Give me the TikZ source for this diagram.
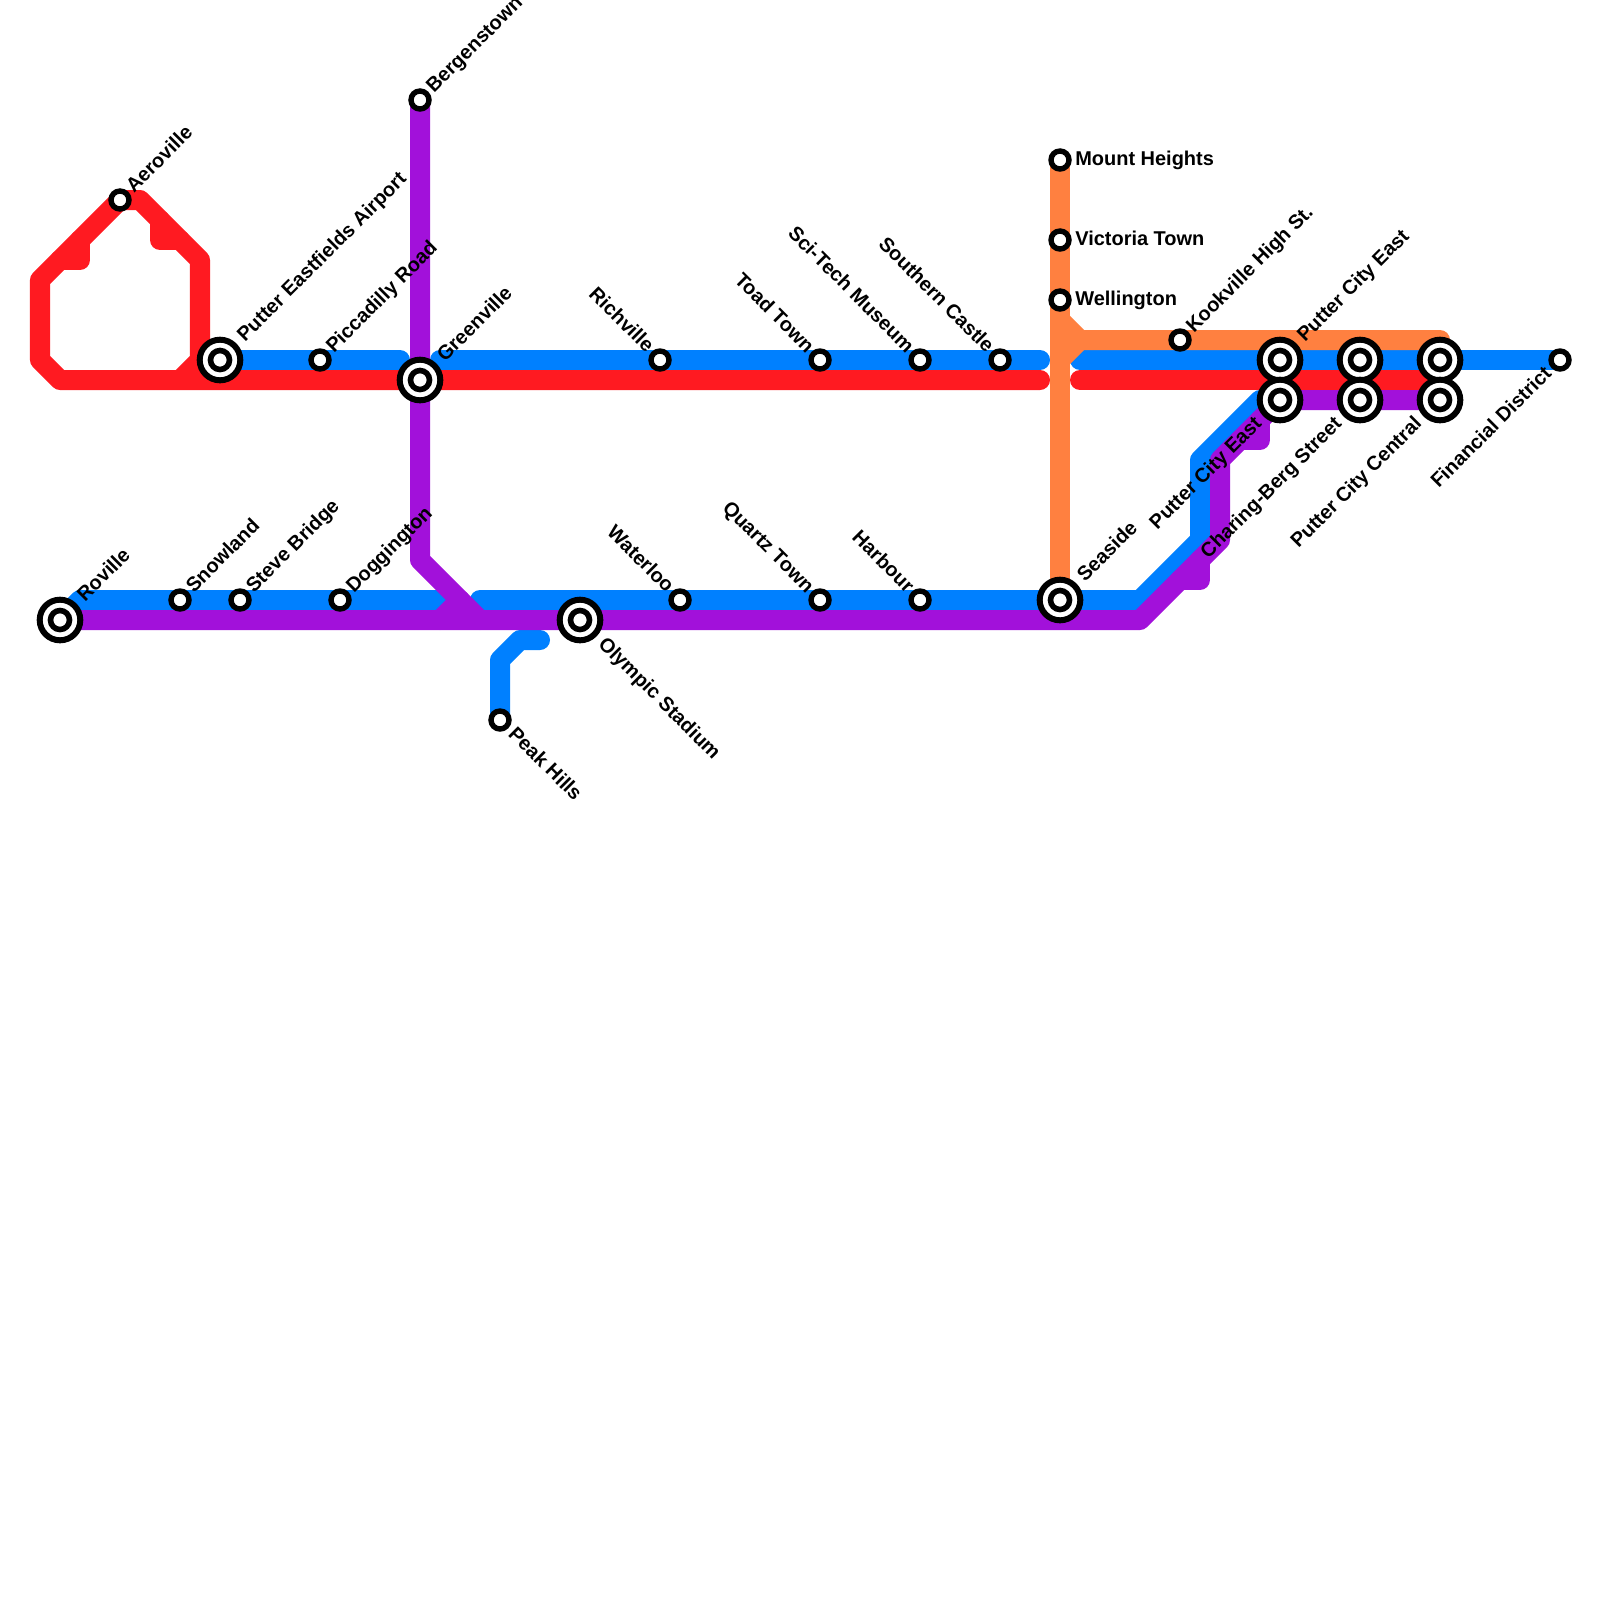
\documentclass[tikz,border=0pt]{standalone}
\usepackage{fontspec}
\setmainfont{Liberation Sans}
\usetikzlibrary{backgrounds}
\definecolor{redline}{HTML}{FF1A21}
\definecolor{blueline}{HTML}{0080FF}
\definecolor{purpleline}{HTML}{A211DA}
\definecolor{orangeline}{HTML}{FF8040}

\begin{document}
\begin{tikzpicture}[
  x=0.025cm, y=-0.025cm,
  track/.style={line width=0.5cm, line cap=round, line join=round},
  stop/.style={circle, draw=black, fill=white, line width=0.135cm, inner sep=0pt, minimum size=0.45cm},
  hub/.style={circle, draw=black, fill=white, line width=0.15cm, inner sep=0pt, minimum size=1.015cm,
    path picture={\draw[line width=0.14cm, black] (path picture bounding box.center) circle (0.2375cm);}},
  lab/.style={font=\fontsize{14.2}{16}\selectfont\bfseries, inner sep=0pt, text height=1.45ex, text depth=0pt},
  ne/.style={lab, shift={(10,-10)}, rotate=45, anchor=west},
  nw/.style={lab, shift={(-10,-10)}, rotate=-45, anchor=east},
  se/.style={lab, shift={(11,11)}, rotate=-45, anchor=west},
  sw/.style={lab, shift={(-11,11)}, rotate=45, anchor=east},
  hne/.style={lab, shift={(21,-21)}, rotate=45, anchor=west},
  hse/.style={lab, shift={(21,21)}, rotate=-45, anchor=west},
  hsw/.style={lab, shift={(-21,21)}, rotate=45, anchor=east},
  rt/.style={lab, shift={(15,0)}, anchor=west}
]
\useasboundingbox (0,0) rectangle (1600,1600);

\node[stop] (aeroville) at (120,200) {};
\node[hub] (eastfields) at (220,360) {};
\node[stop] (piccadilly) at (320,360) {};
\node[hub] (greenville) at (420,380) {};
\node[stop] (bergenstown) at (420,100) {};
\node[stop] (richville) at (660,360) {};
\node[stop] (toadtown) at (820,360) {};
\node[stop] (scitech) at (920,360) {};
\node[stop] (southern) at (1000,360) {};
\node[stop] (mount) at (1060,160) {};
\node[stop] (victoria) at (1060,240) {};
\node[stop] (wellington) at (1060,300) {};
\node[stop] (kookville) at (1180,340) {};
\node[hub] (cityeast) at (1280,360) {};
\node[hub] (cityeastb) at (1280,400) {};
\node[hub] (midtop) at (1360,360) {};
\node[hub] (charing) at (1360,400) {};
\node[hub] (righttop) at (1440,360) {};
\node[hub] (central) at (1440,400) {};
\node[stop] (financial) at (1560,360) {};
\node[hub] (roville) at (60,620) {};
\node[stop] (snowland) at (180,600) {};
\node[stop] (steve) at (240,600) {};
\node[stop] (doggington) at (340,600) {};
\node[hub] (olympic) at (580,620) {};
\node[stop] (waterloo) at (680,600) {};
\node[stop] (quartz) at (820,600) {};
\node[stop] (harbour) at (920,600) {};
\node[hub] (seaside) at (1060,600) {};
\node[stop] (peak) at (500,720) {};

\coordinate (gapwest) at (400,360);
\coordinate (gapeast) at (440,360);
\coordinate (stoptop) at (1040,360);
\coordinate (restarttop) at (1080,360);
\coordinate (stopred) at (1040,380);
\coordinate (restartred) at (1080,380);
\coordinate (orangebend) at (1080,340);
\coordinate (orangefork) at (1060,320);
\coordinate (orangeend) at (1440,340);
\coordinate (redend) at (1440,380);

\begin{scope}[on background layer]
% blue line
\draw[track, blueline] (eastfields.center) -- (gapwest);
\draw[track, blueline] (gapeast) -- (stoptop);
\draw[track, blueline] (restarttop) -- (financial.center);
\draw[track, blueline] (roville.center) -- (80,600) -- (440,600);
\draw[track, blueline] (480,600) -- (1140,600) -- (1200,540) -- (1200,460) -- (1260,400) -- (cityeastb.center);
\draw[track, blueline] (peak.center) -- (500,660) -- (520,640) -- (540,640);
% red line
\draw[track, redline] (stopred) -- (60,380) -- (40,360) -- (40,280) -- (120,200) -- (140,200) -- (200,260) -- (200,360) -- (180,380);
\draw[track, redline] (restartred) -- (redend);
\draw[track, redline] (80,240) -- (80,260) -- (60,260);
\draw[track, redline] (160,220) -- (160,240) -- (180,240);
% orange line
\draw[track, orangeline] (mount.center) -- (seaside.center);
\draw[track, orangeline] (orangefork) -- (orangebend) -- (orangeend);
\draw[track, orangeline] (1060,360) -- (orangebend);
% purple line
\draw[track, purpleline] (bergenstown.center) -- (420,560) -- (480,620);
\draw[track, purpleline] (roville.center) -- (1140,620) -- (1220,540) -- (1220,460) -- (cityeastb.center) -- (central.center);
\draw[track, purpleline] (440,620) -- (460,600);
\draw[track, purpleline] (1180,580) -- (1200,580) -- (1200,560);
\draw[track, purpleline] (1240,440) -- (1260,440) -- (1260,420);
\end{scope}

\node[ne] (aerovillelab) at (aeroville) {Aeroville};
\node[hne] (eastfieldslab) at (eastfields) {Putter Eastfields Airport};
\node[ne] (piccadillylab) at (piccadilly) {Piccadilly Road};
\node[hne] (greenvillelab) at (greenville) {Greenville};
\node[ne] (bergenstownlab) at (bergenstown) {Bergenstown};
\node[nw] (richvillelab) at (richville) {Richville};
\node[nw] (toadlab) at (toadtown) {Toad Town};
\node[nw] (scitechlab) at (scitech) {Sci-Tech Museum};
\node[nw] (southernlab) at (southern) {Southern Castle};
\node[rt] (mountlab) at (mount) {Mount Heights};
\node[rt] (victorialab) at (victoria) {Victoria Town};
\node[rt] (wellingtonlab) at (wellington) {Wellington};
\node[ne] (kookvillelab) at (kookville) {Kookville High St.};
\node[hne] (cityeastlab) at (cityeast) {Putter City East};
\node[hsw] (cityeastblab) at (cityeastb) {Putter City East};
\node[hsw] (charinglab) at (charing) {Charing-Berg Street};
\node[hsw] (centrallab) at (central) {Putter City Central};
\node[sw] (financiallab) at (financial) {Financial District};
\node[hne] (rovillelab) at (roville) {Roville};
\node[ne] (snowlandlab) at (snowland) {Snowland};
\node[ne] (stevelab) at (steve) {Steve Bridge};
\node[ne] (doggingtonlab) at (doggington) {Doggington};
\node[hse] (olympiclab) at (olympic) {Olympic Stadium};
\node[nw] (waterloolab) at (waterloo) {Waterloo};
\node[nw] (quartzlab) at (quartz) {Quartz Town};
\node[nw] (harbourlab) at (harbour) {Harbour};
\node[hne] (seasidelab) at (seaside) {Seaside};
\node[se] (peaklab) at (peak) {Peak Hills};
\end{tikzpicture}
\end{document}
